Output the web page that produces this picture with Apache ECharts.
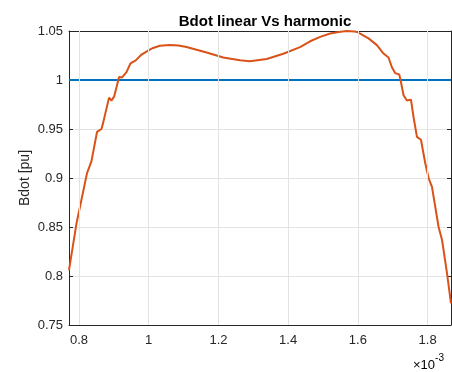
<!DOCTYPE html>
<html>
<head>
<meta charset="utf-8">
<script src="https://cdn.jsdelivr.net/npm/echarts@6/dist/echarts.min.js"></script>
<style>html,body{margin:0;padding:0;background:#fff}#c{width:452px;height:372px}</style>
</head>
<body>
<div id="c"></div>
<script>
// x values in units of 1e-3
const xHarm = [0.7713,0.7925,0.823,0.8356,0.8517,0.8644,0.869,0.8862,0.8931,0.9006,0.915,0.9236,0.9362,0.9477,0.9629,0.9793,1.0032,1.0126,1.0319,1.0606,1.085,1.1086,1.1661,1.2138,1.2618,1.2905,1.3385,1.3862,1.4342,1.463,1.4920,1.5204,1.545,1.5684,1.590,1.6017,1.6305,1.6546,1.6736,1.6879,1.6977,1.7072,1.7187,1.7236,1.731,1.7408,1.7523,1.7598,1.7695,1.781,1.7934,1.8029,1.8126,1.8316,1.8414,1.8557,1.8672];
const yHarm = [0.806,0.853,0.905,0.917,0.947,0.950,0.956,0.982,0.979,0.983,1.003,1.0026,1.008,1.017,1.020,1.026,1.031,1.0327,1.035,1.0357,1.0352,1.0337,1.028,1.0229,1.0202,1.0192,1.0215,1.0268,1.0335,1.0395,1.0440,1.0475,1.0490,1.0500,1.0496,1.0484,1.0425,1.0356,1.027,1.023,1.013,1.007,1.0056,0.998,0.9845,0.979,0.980,0.962,0.942,0.939,0.915,0.900,0.891,0.850,0.837,0.803,0.772];
const xLin = [0.7713,1.8672];
const yLin = [1,1];
const xTicks = [0.8,1.0,1.2,1.4,1.6,1.8];
const yTicks = [0.75,0.8,0.85,0.9,0.95,1.0,1.05];
const xMin = 0.7713, xMax = 1.8672;

const axisColor = '#262626';
const gridColor = '#e3e3e3';
const font = 'Liberation Sans, Arial, sans-serif';
const xFmt = v => (Math.round(v*10)/10).toString();
const yFmt = v => (Math.round(v*100)/100).toString();

const chart = echarts.init(document.getElementById('c'));
chart.setOption({
  animation: false,
  title: {text: 'Bdot linear Vs harmonic', left: 260, top: 9, textAlign: 'center',
    textStyle: {fontFamily: font, fontSize: 15, fontWeight: 'bold', color: '#000'}},
  grid: {left: 69, right: 1, top: 31, bottom: 47, containLabel: false},
  xAxis: [{
    type: 'value', min: xMin, max: xMax, position: 'bottom',
    axisLine: {lineStyle: {color: axisColor, width: 1}},
    axisTick: {inside: true, length: 4, customValues: xTicks, lineStyle: {color: axisColor}},
    axisLabel: {customValues: xTicks, formatter: xFmt, color: axisColor, fontFamily: font, fontSize: 13, margin: 9},
    splitLine: {show: false}
  },{
    type: 'value', min: xMin, max: xMax, position: 'top',
    axisLine: {lineStyle: {color: axisColor, width: 1}},
    axisTick: {inside: true, length: 4, customValues: xTicks, lineStyle: {color: axisColor}},
    axisLabel: {show: false},
    splitLine: {show: false}
  }],
  yAxis: [{
    type: 'value', min: 0.75, max: 1.05, interval: 0.05, position: 'left',
    name: 'Bdot [pu]', nameLocation: 'middle', nameGap: 37, nameRotate: 90, nameMoveOverlap: false,
    nameTextStyle: {fontFamily: font, fontSize: 14, color: axisColor},
    axisLine: {show: true, lineStyle: {color: axisColor, width: 1}},
    axisTick: {show: true, inside: true, length: 4, lineStyle: {color: axisColor}},
    axisLabel: {formatter: yFmt, color: axisColor, fontFamily: font, fontSize: 13, margin: 6},
    splitLine: {show: true, lineStyle: {color: gridColor, width: 1}}
  },{
    type: 'value', min: 0.75, max: 1.05, interval: 0.05, position: 'right',
    axisLine: {show: true, lineStyle: {color: axisColor, width: 1}},
    axisTick: {show: true, inside: true, length: 4, lineStyle: {color: axisColor}},
    axisLabel: {show: false},
    splitLine: {show: false}
  }],
  series: [
    {type: 'line', xAxisIndex: 0, yAxisIndex: 0, showSymbol: false, z: 1,
     data: xTicks.map(v => [v, 0.75]), lineStyle: {opacity: 0},
     markLine: {silent: true, symbol: 'none', label: {show: false},
       lineStyle: {color: gridColor, width: 1, type: 'solid'},
       data: xTicks.map(v => ({xAxis: v}))}},
    {type: 'line', xAxisIndex: 0, yAxisIndex: 0, showSymbol: false, z: 3,
     data: xLin.map((x,i) => [x, yLin[i]]), lineStyle: {color: '#0072BD', width: 2}},
    {type: 'line', xAxisIndex: 0, yAxisIndex: 0, showSymbol: false, z: 4,
     data: xHarm.map((x,i) => [x, yHarm[i]]), lineStyle: {color: '#D95319', width: 2}}
  ],
  graphic: [{
    type: 'text', left: 413, top: 353,
    style: {text: '{a|×10}{b|-3}', rich: {
      a: {fontFamily: font, fontSize: 13, color: axisColor, padding: [6,0,0,0]},
      b: {fontFamily: font, fontSize: 10, color: axisColor, verticalAlign: 'top'}
    }}
  }]
});
</script>
</body>
</html>
